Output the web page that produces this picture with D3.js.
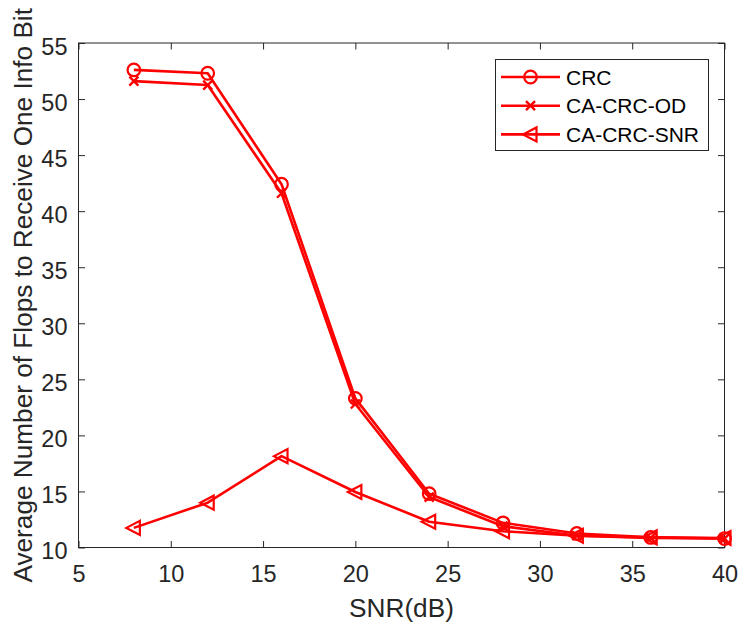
<!DOCTYPE html>
<html>
<head>
<meta charset="utf-8">
<script src="https://d3js.org/d3.v7.min.js"></script>
<style>
  html, body { margin: 0; padding: 0; background: #fff; }
  svg { display: block; font-family: "Liberation Sans", Arial, Helvetica, sans-serif; }
</style>
</head>
<body>
<svg id="chart" width="744" height="627"></svg>
<script>
// SNR sweep (dB)
const snr = [8, 12, 16, 20, 24, 28, 32, 36, 40];

// Average flops per received info bit
const crc      = [52.6, 52.3, 42.4, 23.3, 14.8, 12.2, 11.25, 10.9, 10.8];
const caCrcOd  = [51.6, 51.25, 41.6, 22.8, 14.5, 11.9, 11.05, 10.85, 10.8];
const caCrcSnr = [11.75, 14.0, 18.15, 14.95, 12.3, 11.45, 11.05, 10.9, 10.85];

const seriesNames = ["CRC", "CA-CRC-OD", "CA-CRC-SNR"];
const xTicks = [5, 10, 15, 20, 25, 30, 35, 40];
const yTicks = [10, 15, 20, 25, 30, 35, 40, 45, 50, 55];

const svg = d3.select("#chart");
const plot = { left: 78.5, right: 724.5, top: 43, bottom: 547.5 };
const axisColor = "#262626";
const red = "#ff0000";

const x = d3.scaleLinear().domain([5, 40]).range([plot.left, plot.right]);
const y = d3.scaleLinear().domain([10, 55]).range([plot.bottom, plot.top]);

// axes box with inward ticks on all four sides
const tickLen = 6.5;
const styleAxis = g => {
  g.select(".domain").remove();
  g.selectAll(".tick line").attr("stroke", axisColor).attr("stroke-width", 1);
  g.selectAll(".tick text").attr("fill", axisColor).attr("font-size", 23.5);
};

svg.append("g")
  .attr("transform", `translate(0,${plot.bottom})`)
  .call(d3.axisBottom(x).tickValues(xTicks).tickSize(-tickLen).tickPadding(17.5).tickFormat(d3.format("d")))
  .call(styleAxis);
svg.append("g")
  .attr("transform", `translate(0,${plot.top})`)
  .call(d3.axisTop(x).tickValues(xTicks).tickSize(-tickLen).tickFormat(""))
  .call(styleAxis);
svg.append("g")
  .attr("transform", `translate(${plot.left},0)`)
  .call(d3.axisLeft(y).tickValues(yTicks).tickSize(-tickLen).tickPadding(11).tickFormat(d3.format("d")))
  .call(styleAxis)
  .call(g => g.selectAll(".tick text").attr("dy", "0.47em"));
svg.append("g")
  .attr("transform", `translate(${plot.right},0)`)
  .call(d3.axisRight(y).tickValues(yTicks).tickSize(-tickLen).tickFormat(""))
  .call(styleAxis);

svg.append("rect")
  .attr("x", plot.left).attr("y", plot.top)
  .attr("width", plot.right - plot.left).attr("height", plot.bottom - plot.top)
  .attr("fill", "none").attr("stroke", axisColor).attr("stroke-width", 1);

// axis titles
svg.append("text")
  .attr("x", (plot.left + plot.right) / 2).attr("y", 617)
  .attr("text-anchor", "middle").attr("font-size", 26.2).attr("fill", axisColor)
  .text("SNR(dB)");
svg.append("text")
  .attr("transform", "translate(32,295.3) rotate(-90)")
  .attr("text-anchor", "middle").attr("font-size", 26.2).attr("fill", axisColor)
  .text("Average Number of Flops to Receive One Info Bit");

// marker painters
const markers = {
  circle: (g, cx, cy) => g.append("circle").attr("cx", cx).attr("cy", cy).attr("r", 6.3)
    .attr("fill", "none").attr("stroke", red).attr("stroke-width", 2.2),
  cross: (g, cx, cy) => g.append("path")
    .attr("d", `M${cx - 4.5},${cy - 4.5}L${cx + 4.5},${cy + 4.5}M${cx - 4.5},${cy + 4.5}L${cx + 4.5},${cy - 4.5}`)
    .attr("fill", "none").attr("stroke", red).attr("stroke-width", 2.4),
  triLeft: (g, cx, cy) => g.append("path")
    .attr("d", `M${cx - 7.5},${cy}L${cx + 6},${cy - 7}L${cx + 6},${cy + 7}Z`)
    .attr("fill", "none").attr("stroke", red).attr("stroke-width", 2.2)
};

const series = [
  { name: seriesNames[0], values: crc, marker: "circle" },
  { name: seriesNames[1], values: caCrcOd, marker: "cross" },
  { name: seriesNames[2], values: caCrcSnr, marker: "triLeft" }
];

const line = d3.line().x(d => x(d[0])).y(d => y(d[1]));

series.slice().reverse().forEach(s => {
  const pts = snr.map((v, i) => [v, s.values[i]]);
  const g = svg.append("g");
  g.append("path").datum(pts).attr("d", line)
    .attr("fill", "none").attr("stroke", red).attr("stroke-width", 2.6)
    .attr("stroke-linejoin", "round");
  pts.forEach(p => markers[s.marker](g, x(p[0]), y(p[1])));
});

// legend
const lg = svg.append("g");
lg.append("rect").attr("x", 495.5).attr("y", 59.5).attr("width", 213).attr("height", 91)
  .attr("fill", "#fff").attr("stroke", "#262626").attr("stroke-width", 1);
series.forEach((s, i) => {
  const cy = 77 + i * 28.7;
  lg.append("line").attr("x1", 501).attr("x2", 560).attr("y1", cy).attr("y2", cy)
    .attr("stroke", red).attr("stroke-width", 2.6);
  markers[s.marker](lg, 530.5, cy);
  lg.append("text").attr("x", 566).attr("y", cy).attr("dy", "0.36em")
    .attr("font-size", 21).attr("fill", "#000").text(s.name);
});
</script>
</body>
</html>
